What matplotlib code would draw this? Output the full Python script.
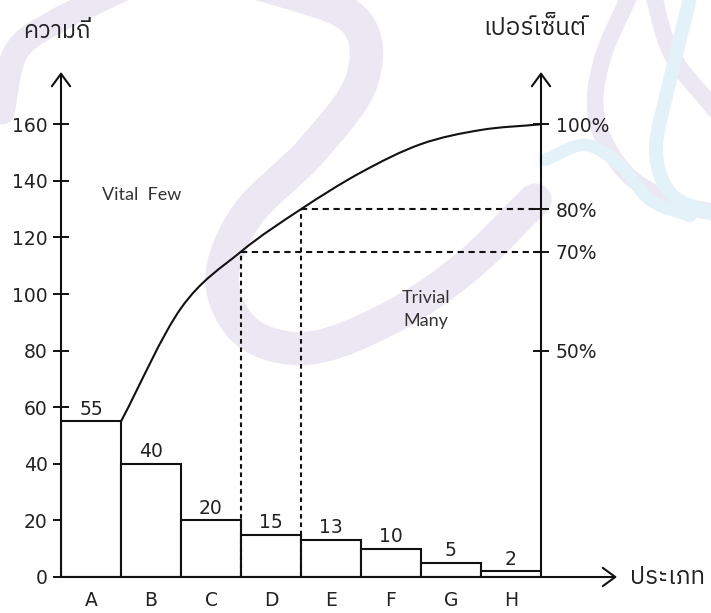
import numpy as np
import matplotlib
matplotlib.use("Agg")
import matplotlib.pyplot as plt
from matplotlib import font_manager
from matplotlib.ft2font import FT2Font
from matplotlib.path import Path
from matplotlib.patches import PathPatch

# --- data ---
categories = ['A', 'B', 'C', 'D', 'E', 'F', 'G', 'H']
counts = [55, 40, 20, 15, 13, 10, 5, 2]
left_ticks = [0, 20, 40, 60, 80, 100, 120, 140, 160]
pct_labels = ['50%', '70%', '80%', '100%']

cum = np.cumsum(counts)
total = cum[-1]
# where each percent mark sits on the frequency scale
pct_at = [total / 2, cum[2], cum[3], total]


def thai_family():
    # first installed font that has Thai glyphs
    found = []
    for fe in font_manager.fontManager.ttflist:
        try:
            if 0x0E04 in FT2Font(fe.fname).get_charmap():
                found.append(fe.name)
        except Exception:
            continue
    for name in found:
        if 'Thai' in name and 'Looped' not in name:
            return name
    return found[0] if found else 'DejaVu Sans'


THAI = [thai_family(), 'DejaVu Sans']


def smooth_path(xs, ys):
    # catmull-rom through the points, written as cubic beziers
    pts = np.column_stack([xs, ys]).astype(float)
    ext = np.vstack([2 * pts[0] - pts[1], pts, 2 * pts[-1] - pts[-2]])
    verts = [pts[0]]
    codes = [Path.MOVETO]
    for i in range(1, len(ext) - 2):
        p0, p1, p2, p3 = ext[i - 1], ext[i], ext[i + 1], ext[i + 2]
        verts += [p1 + (p2 - p0) / 6, p2 - (p3 - p1) / 6, p2]
        codes += [Path.CURVE4] * 3
    return Path(verts, codes)


W, H = 711, 613
fig = plt.figure(figsize=(W / 100, H / 100), dpi=100)
fig.patch.set_facecolor('white')

# background swirl, drawn in pixel space
bg = fig.add_axes([0, 0, 1, 1], zorder=-1)
bg.set_xlim(0, W)
bg.set_ylim(H, 0)
bg.axis('off')
lav = '#ece8f3'
sky = '#e3f2f8'
swirls = [
    ([255, 352, 362, 312, 247, 222, 248, 310, 390, 465, 535],
     [-18, 18, 80, 150, 215, 280, 333, 348, 318, 268, 200], lav, 24),
    ([2, 16, 55, 125], [112, 52, 22, -12], lav, 18),
    ([632, 602, 597, 628, 683, 735], [-10, 60, 120, 175, 205, 215], lav, 12),
    ([652, 672, 715], [-10, 55, 110], lav, 12),
    ([692, 670, 656, 672, 715], [-10, 80, 150, 195, 215], sky, 10),
    ([545, 585, 620, 650, 690], [160, 145, 165, 200, 216], sky, 9),
]
for sx, sy, col, lw in swirls:
    bg.add_patch(PathPatch(smooth_path(sx, sy), fill=False, edgecolor=col,
                           lw=lw, capstyle='round'))

# main chart
x0, x1 = 61, 541
y0, ytop = 577, 72
ppu = (577 - 124.3) / 160
ax = fig.add_axes([x0 / W, (H - y0) / H, (x1 - x0) / W, (y0 - ytop) / H])
ax.set_facecolor('none')
ax.set_xlim(0, len(categories))
ax.set_ylim(0, (y0 - ytop) / ppu)
for s in ax.spines.values():
    s.set_visible(False)

ink = '#111111'
txt = '#222222'

ax.bar(np.arange(len(counts)), counts, width=1, align='edge',
       color='white', edgecolor=ink, lw=1.5, zorder=2)
for i, v in enumerate(counts):
    ax.annotate(str(v), (i + 0.5, v), xytext=(0, 2), textcoords='offset points',
                ha='center', va='bottom', fontsize=13.5, color=txt)

# cumulative curve from the top of the first bar
bx = np.arange(1, len(counts) + 1)
ax.add_patch(PathPatch(smooth_path(bx, cum), fill=False, edgecolor=ink,
                       lw=1.5, zorder=3, clip_on=False))

# 70% / 80% cut lines
dash = (0, (3, 2.2))
for k in (3, 4):
    lvl = cum[k - 1]
    ax.plot([k, k], [0, lvl], color=ink, lw=1.5, ls=(0, (2.2, 1.8)), zorder=3,
            clip_on=False)
    ax.plot([k, len(counts)], [lvl, lvl], color=ink, lw=1.5, ls=dash, zorder=3,
            clip_on=False)

# axes with open arrow heads
arrow = dict(arrowstyle='->,head_length=0.45,head_width=0.33', lw=1.5,
             color=ink, mutation_scale=20, shrinkA=0, shrinkB=0)
ax.annotate('', xy=(0, 1), xytext=(0, 0), xycoords='axes fraction', arrowprops=arrow)
ax.annotate('', xy=(1, 1), xytext=(1, 0), xycoords='axes fraction', arrowprops=arrow)
ax.annotate('', xy=((617 - x0) / (x1 - x0), 0), xytext=(0, 0),
            xycoords='axes fraction', arrowprops=arrow)

ax.set_yticks(left_ticks)
ax.tick_params(axis='y', direction='inout', length=11, width=1.4, pad=4,
               labelsize=13.5, labelcolor=txt, color=ink)
ax.set_xticks(np.arange(len(categories)) + 0.5, categories)
ax.tick_params(axis='x', length=0, pad=10, labelsize=13.5, labelcolor=txt)

ax2 = ax.twinx()
ax2.set_ylim(ax.get_ylim())
for s in ax2.spines.values():
    s.set_visible(False)
ax2.set_yticks(pct_at, pct_labels)
ax2.tick_params(axis='y', direction='inout', length=11, width=1.4, pad=5,
                labelsize=13.5, labelcolor=txt, color=ink)

# annotations
ax.text(1.35, 135, 'Vital  Few', fontsize=13, color='#333333', ha='center',
        va='center', family='Lato')
ax.text(6.08, 94.5, 'Trivial\nMany', fontsize=13, color='#333333', ha='center',
        va='center', linespacing=1.5, family='Lato')

bg.text(23, 38, 'ความถี่', fontsize=17, color=txt, family=THAI, va='baseline')
bg.text(483, 35, 'เปอร์เซ็นต์', fontsize=17.5, color=txt, family=THAI, va='baseline')
bg.text(630, 584, 'ประเภท', fontsize=17.5, color=txt, family=THAI, va='baseline')

fig.savefig('out.png', dpi=100)
